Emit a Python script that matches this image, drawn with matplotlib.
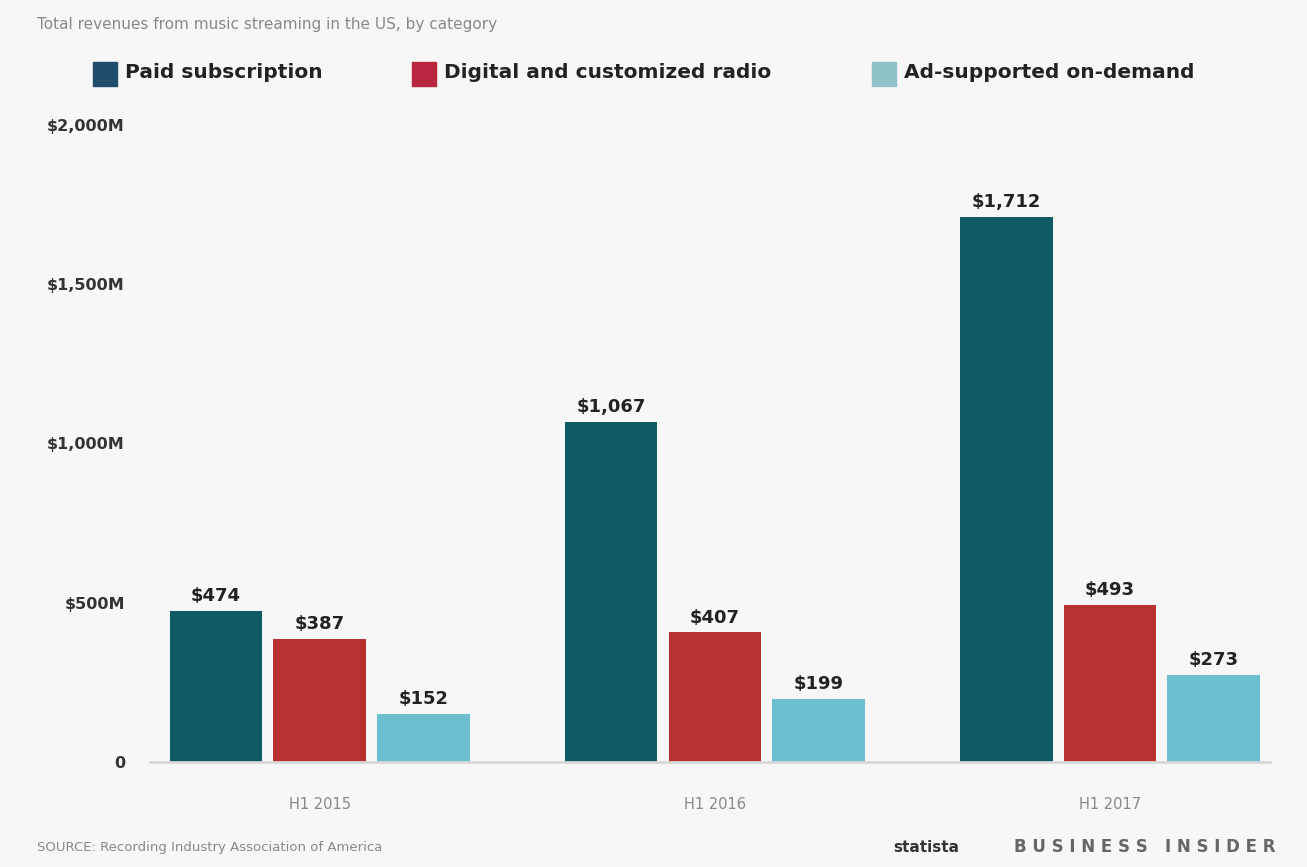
import numpy as np
import matplotlib.pyplot as plt

# --- data ---
periods = ["H1 2015", "H1 2016", "H1 2017"]
series_names = ["Paid subscription", "Digital and customized radio", "Ad-supported on-demand"]
paid = [474, 1067, 1712]
radio = [387, 407, 493]
ad_supported = [152, 199, 273]
yticks = [0, 500, 1000, 1500, 2000]
ytick_labels = ["0", "$500M", "$1,000M", "$1,500M", "$2,000M"]

colors = ["#0e5b66", "#b8302f", "#6cbfce"]
legend_colors = ["#1f4d6b", "#b8273f", "#8fc3c9"]
bg = "#f7f7f7"

fig = plt.figure(figsize=(13.07, 8.67), dpi=100, facecolor=bg)
ax = fig.add_axes([150 / 1307, 1 - 762 / 867, 1120 / 1307, 637 / 867])
ax.set_facecolor(bg)

x = np.arange(len(periods))
width = 0.235
offset = 0.263
for i, (vals, col) in enumerate(zip([paid, radio, ad_supported], colors)):
    pos = x + (i - 1) * offset
    ax.bar(pos, vals, width=width, color=col, zorder=2)
    for p, v in zip(pos, vals):
        ax.text(p, v + 18, f"${v:,}", ha="center", va="bottom",
                fontsize=13, fontweight="bold", color="#222222")

ax.set_xlim(-0.43, 2.405)
ax.set_ylim(0, 2000)
ax.set_yticks(yticks)
ax.set_yticklabels(ytick_labels, fontsize=11.5, fontweight="bold", color="#333333")
ax.set_xticks(x)
ax.set_xticklabels(periods, fontsize=10.5, color="#888888")
ax.tick_params(axis="y", length=0, pad=18)
ax.tick_params(axis="x", length=0, pad=25)
for s in ["top", "right", "left"]:
    ax.spines[s].set_visible(False)
ax.spines["bottom"].set_color("#d8d8d8")
ax.spines["bottom"].set_linewidth(2)
ax.spines["bottom"].set_zorder(3)

# title
fig.text(37 / 1307, 1 - 25 / 867, "Total revenues from music streaming in the US, by category",
         fontsize=11, color="#888888", va="center", ha="left")

# legend
leg_x = [93, 412, 872]
for lx, name, col in zip(leg_x, series_names, legend_colors):
    fig.patches.append(plt.Rectangle((lx / 1307, 1 - 86 / 867), 24 / 1307, 24 / 867,
                                     transform=fig.transFigure, color=col))
    fig.text((lx + 32) / 1307, 1 - 73 / 867, name, fontsize=14.5, fontweight="bold",
             color="#222222", va="center", ha="left")

# footer
fig.text(37 / 1307, 1 - 847 / 867, "SOURCE: Recording Industry Association of America",
         fontsize=9.5, color="#888888", va="center", ha="left")
fig.text(893 / 1307, 1 - 847 / 867, "statista", fontsize=11, fontweight="bold",
         color="#333333", va="center", ha="left")
fig.text(1275 / 1307, 1 - 847 / 867, "B U S I N E S S   I N S I D E R", fontsize=12,
         fontweight="bold", color="#666666", va="center", ha="right")

fig.savefig("out.png", dpi=100, facecolor=bg)
